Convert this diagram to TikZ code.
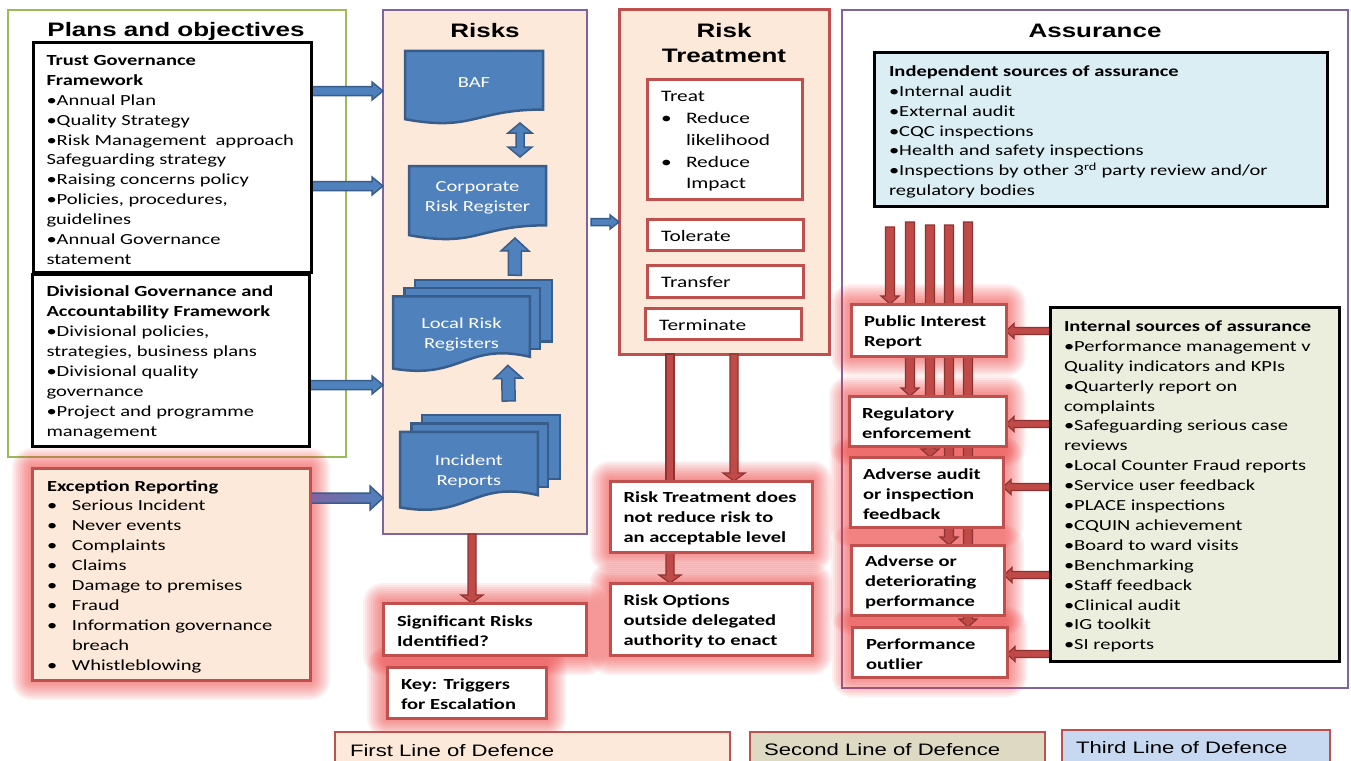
\documentclass[tikz,border=0pt]{standalone}
\usepackage{fontspec}
\setmainfont[FakeStretch=1.333]{Carlito}
\newfontfamily\headfont[FakeStretch=1.333]{Liberation Sans}
\usetikzlibrary{calc}

\definecolor{peach}{HTML}{FDE9D9}
\definecolor{brick}{HTML}{C0504D}
\definecolor{framepurple}{HTML}{8064A2}
\definecolor{leafgreen}{HTML}{9BBB59}
\definecolor{docblue}{HTML}{4F81BD}
\definecolor{docedge}{HTML}{385D8A}
\definecolor{arrowred}{HTML}{BF4A47}
\definecolor{arrowdark}{HTML}{8E3331}
\definecolor{glowred}{HTML}{F03030}
\definecolor{skyfill}{HTML}{DAEEF3}
\definecolor{olivefill}{HTML}{EBEEDD}
\definecolor{taupefill}{HTML}{DDD9C3}
\definecolor{paleblue}{HTML}{C6D9F1}

\newcommand\bodyfont{\fontsize{15.4pt}{19.9pt}\selectfont}
\newcommand\treatfont{\fontsize{16pt}{21.75pt}\selectfont}
\newcommand\paneltitlefont{\headfont\bfseries\fontsize{19.5pt}{25pt}\selectfont}
\newcommand\legendfont{\headfont\fontsize{16.6pt}{20pt}\selectfont}
\newcommand\bl{\makebox[25pt][l]{•}}

\pgfdeclarelayer{bg}
\pgfdeclarelayer{glow}
\pgfdeclarelayer{links}
\pgfsetlayers{bg,glow,links,main}

% soft red halo round an escalation trigger box
\newcommand\glowaround[1]{%
  \foreach \g in {2pt,4pt,6pt,8pt,10pt,12pt,14pt,16pt,18pt,20pt}{%
    \fill[glowred, opacity=0.07, rounded corners=\g]
      ($(#1.south west)+(-\g,-\g)$) rectangle ($(#1.north east)+(\g,\g)$);}}

% flowchart document: name, x, y, width, height, label
\newcommand\docshape[6]{%
  \filldraw[docfill] (#2,#3) -- ({#2+#4},#3) -- ({#2+#4},{#3+0.802*#5})
    .. controls ({#2+0.5*#4},{#3+0.802*#5}) and ({#2+0.5*#4},{#3+1.1075*#5}) ..
    (#2,{#3+0.934*#5}) -- cycle;
  \node[doclabel, minimum width=#4pt, minimum height=0.8*#5pt]
    (#1) at ({#2+0.5*#4},{#3+0.4*#5+2.5}) {#6};}

% stacked documents: name, x, y, width, height, label
\newcommand\multidoc[6]{%
  \filldraw[docfill] ({#2+0.1376*#4},#3) rectangle ({#2+#4},{#3+0.6667*#5});
  \filldraw[docfill] ({#2+0.0709*#4},{#3+0.0863*#5}) rectangle ({#2+0.9259*#4},{#3+0.7492*#5});
  \filldraw[docfill] (#2,{#3+0.1766*#5}) -- ({#2+0.8609*#4},{#3+0.1766*#5})
    -- ({#2+0.8609*#4},{#3+0.8344*#5})
    .. controls ({#2+0.4551*#4},{#3+0.6728*#5}) and ({#2+0.4305*#4},{#3+1.0899*#5}) ..
    (#2,{#3+0.9621*#5}) -- cycle;
  \node[doclabel, minimum width=0.8609*#4pt, minimum height=0.7734*#5pt]
    (#1) at ({#2+0.4305*#4},{#3+0.5633*#5+2.5}) {#6};}

\tikzset{
  every node/.style={inner sep=0pt, outer sep=0pt},
  wh/.style 2 args={minimum width=#1pt, minimum height=#2pt},
  panel/.style={rectangle, draw, line width=2.5pt, anchor=north west},
  box/.style={rectangle, draw=black, line width=3pt, fill=white, anchor=north west},
  flag/.style={box, draw=brick},
  txt/.style={anchor=west, align=left, font=\bodyfont, yshift=-2.5pt},
  boldtxt/.style={anchor=west, align=left, font=\bodyfont\bfseries, yshift=-2pt},
  paneltitle/.style={align=center, font=\paneltitlefont, yshift=-3pt},
  legendtxt/.style={anchor=west, font=\legendfont},
  docfill/.style={fill=docblue, draw=docedge, line width=2.5pt},
  doclabel/.style={text=white, align=center, font=\bodyfont},
  blk shaft/.store in=\blkS, blk head/.store in=\blkH, blk len/.store in=\blkL,
  blk shaft=4pt, blk head=9pt, blk len=10pt,
  block arrow/.style={to path={
    let \p1=(\tikztostart), \p2=(\tikztotarget),
        \n1={veclen(\x2-\x1,\y2-\y1)},
        \n2={(\x2-\x1)/\n1}, \n3={(\y2-\y1)/\n1}
    in ({\x1-\n3*\blkS},{\y1+\n2*\blkS})
    -- ({\x2-\n2*\blkL-\n3*\blkS},{\y2-\n3*\blkL+\n2*\blkS})
    -- ({\x2-\n2*\blkL-\n3*\blkH},{\y2-\n3*\blkL+\n2*\blkH})
    -- (\p2)
    -- ({\x2-\n2*\blkL+\n3*\blkH},{\y2-\n3*\blkL-\n2*\blkH})
    -- ({\x2-\n2*\blkL+\n3*\blkS},{\y2-\n3*\blkL-\n2*\blkS})
    -- ({\x1+\n3*\blkS},{\y1-\n2*\blkS})
    -- cycle}},
  double block arrow/.style={to path={
    let \p1=(\tikztostart), \p2=(\tikztotarget),
        \n1={veclen(\x2-\x1,\y2-\y1)},
        \n2={(\x2-\x1)/\n1}, \n3={(\y2-\y1)/\n1}
    in (\p1)
    -- ({\x1+\n2*\blkL-\n3*\blkH},{\y1+\n3*\blkL+\n2*\blkH})
    -- ({\x1+\n2*\blkL-\n3*\blkS},{\y1+\n3*\blkL+\n2*\blkS})
    -- ({\x2-\n2*\blkL-\n3*\blkS},{\y2-\n3*\blkL+\n2*\blkS})
    -- ({\x2-\n2*\blkL-\n3*\blkH},{\y2-\n3*\blkL+\n2*\blkH})
    -- (\p2)
    -- ({\x2-\n2*\blkL+\n3*\blkH},{\y2-\n3*\blkL-\n2*\blkH})
    -- ({\x2-\n2*\blkL+\n3*\blkS},{\y2-\n3*\blkL-\n2*\blkS})
    -- ({\x1+\n2*\blkL+\n3*\blkS},{\y1+\n3*\blkL-\n2*\blkS})
    -- ({\x1+\n2*\blkL+\n3*\blkH},{\y1+\n3*\blkL-\n2*\blkH})
    -- cycle}},
  bluearrow/.style={block arrow, fill=docblue, draw=docedge, line width=1.5pt,
    blk shaft=4.5pt, blk head=9pt, blk len=11pt},
  redarrow/.style={block arrow, fill=arrowred, draw=arrowdark, line width=1.2pt,
    blk shaft=4pt, blk head=11pt, blk len=8pt},
  redbar/.style={redarrow, blk head=4pt, blk len=0pt},
  sidearrow/.style={redarrow, blk shaft=3.5pt, blk head=7.5pt, blk len=8pt},
}

\begin{document}
\begin{tikzpicture}[x=1pt, y=-1pt]
\useasboundingbox (0,0) rectangle (1351,760);

\begin{pgfonlayer}{bg}
  \fill[white] (0,0) rectangle (1351,760);
  \node[panel, draw=leafgreen, fill=white, wh={338}{447}] (plans) at (8,10) {};
  \node[panel, draw=framepurple, fill=peach, wh={204}{524}] (risks) at (383,10) {};
  \node[panel, draw=brick, line width=3pt, fill=peach, wh={210}{344}] (treat) at (619,10) {};
  \node[panel, draw=framepurple, fill=white, wh={506}{678}] (assure) at (842,10) {};
\end{pgfonlayer}

% column titles
\node[paneltitle] (plans-title) at (176,28) {Plans and objectives};
\node[paneltitle] (risks-title) at (485,28) {Risks};
\node[paneltitle] (treat-title) at (724,40.5) {Risk\\Treatment};
\node[paneltitle] (assure-title) at (1095,28) {Assurance};

% plans and objectives
\node[box, wh={278}{229}] (tgf) at (33,43) {};
\node[txt] (tgf-text) at ([xshift=13.5pt]tgf.west)
  {\textbf{Trust Governance}\\\textbf{Framework}\\•Annual Plan\\•Quality Strategy\\
   •Risk Management~ approach\\Safeguarding strategy\\•Raising concerns policy\\
   •Policies, procedures,\\guidelines\\•Annual Governance\\statement};
\node[box, wh={277}{172}] (dgf) at (32,274) {};
\node[txt] (dgf-text) at ([xshift=14.5pt]dgf.west)
  {\textbf{Divisional Governance and}\\\textbf{Accountability Framework}\\
   •Divisional policies,\\strategies, business plans\\•Divisional quality\\
   governance\\•Project and programme\\management};
\node[flag, fill=peach, wh={278}{212}] (exc) at (32,468) {};
\node[txt] (exc-text) at ([xshift=15pt]exc.west)
  {\textbf{Exception Reporting}\\\bl Serious Incident\\\bl Never events\\\bl Complaints\\
   \bl Claims\\\bl Damage to premises\\\bl Fraud\\\bl Information governance\\
   \hspace*{25pt}breach\\\bl Whistleblowing};

% risk registers
\docshape{baf}{405}{51}{138}{73}{BAF}
\docshape{crr}{409}{166}{137}{74}{Corporate\\Risk Register}
\multidoc{lrr}{393}{280}{159}{92}{Local Risk\\Registers}
\multidoc{irp}{400}{415}{160}{96}{Incident\\Reports}

% risk treatment options
\node[flag, wh={155}{120}] (treatopt) at (647,79) {};
\node[txt, font=\treatfont] (treatopt-text) at ([xshift=14pt]treatopt.west)
  {Treat\\\bl Reduce\\\hspace*{25pt}likelihood\\\bl Reduce\\\hspace*{25pt}Impact};
\node[flag, wh={156}{31}] (tol) at (647,219) {};
\node[txt, font=\treatfont, yshift=1pt] (tol-text) at ([xshift=14pt]tol.west) {Tolerate};
\node[flag, wh={156}{32}] (trf) at (647,265) {};
\node[txt, font=\treatfont, yshift=1pt] (trf-text) at ([xshift=14pt]trf.west) {Transfer};
\node[flag, wh={156}{31}] (term) at (645,308) {};
\node[txt, font=\treatfont, yshift=1pt] (term-text) at ([xshift=14pt]term.west) {Terminate};

% escalation triggers below the columns
\node[flag, wh={202}{71}] (rtdoes) at (610,481) {};
\node[boldtxt] (rtdoes-text) at ([xshift=13.5pt]rtdoes.west)
  {Risk Treatment does\\not reduce risk to\\an acceptable level};
\node[flag, wh={202}{72}] (ropt) at (610,583) {};
\node[boldtxt] (ropt-text) at ([xshift=13.5pt]ropt.west)
  {Risk Options\\outside delegated\\authority to enact};
\node[flag, wh={203}{52}] (sig) at (383,603) {};
\node[boldtxt] (sig-text) at ([xshift=14pt]sig.west) {Significant Risks\\Identified?};
\node[flag, wh={159}{51}] (key) at (387,667) {};
\node[boldtxt] (key-text) at ([xshift=14pt]key.west) {Key: Triggers\\for Escalation};

% assurance
\node[box, fill=skyfill, wh={453}{153}] (indep) at (874,53) {};
\node[txt] (indep-text) at ([xshift=15pt]indep.west)
  {\textbf{Independent sources of assurance}\\•Internal audit\\•External audit\\
   •CQC inspections\\•Health and safety inspections\\
   •Inspections by other 3\textsuperscript{rd} party review and/or\\regulatory bodies};
\node[flag, wh={155}{52}] (pir) at (851,304) {};
\node[boldtxt] (pir-text) at ([xshift=13pt]pir.west) {Public Interest\\Report};
\node[flag, wh={157}{50}] (reg) at (849,396) {};
\node[boldtxt] (reg-text) at ([xshift=13pt]reg.west) {Regulatory\\enforcement};
\node[flag, wh={153}{70}] (aud) at (850,457) {};
\node[boldtxt] (aud-text) at ([xshift=13pt]aud.west) {Adverse audit\\or inspection\\feedback};
\node[flag, wh={153}{70}] (advp) at (851,545) {};
\node[boldtxt] (advp-text) at ([xshift=14pt]advp.west) {Adverse or\\deteriorating\\performance};
\node[flag, wh={155}{50}] (outl) at (852,627) {};
\node[boldtxt] (outl-text) at ([xshift=14pt]outl.west) {Performance\\outlier};
\node[box, fill=olivefill, wh={289}{354}] (intl) at (1050,307) {};
\node[txt] (intl-text) at ([xshift=14pt]intl.west)
  {\textbf{Internal sources of assurance}\\•Performance management v\\
   Quality indicators and KPIs\\•Quarterly report on\\complaints\\
   •Safeguarding serious case\\reviews\\•Local Counter Fraud reports\\
   •Service user feedback\\•PLACE inspections\\•CQUIN achievement\\
   •Board to ward visits\\•Benchmarking\\•Staff feedback\\•Clinical audit\\
   •IG toolkit\\•SI reports};

% lines of defence legend
\node[panel, draw=brick, fill=peach, wh={395}{45}] (first) at (335,732) {};
\node[legendtxt] (first-text) at ($(first.north west)+(15pt,-18.5pt)$) {First Line of Defence};
\node[panel, draw=brick, fill=taupefill, wh={295}{45}] (second) at (750,732) {};
\node[legendtxt] (second-text) at ($(second.north west)+(14pt,-17.5pt)$) {Second Line of Defence};
\node[panel, draw=brick, fill=paleblue, wh={268}{47}] (third) at (1062,730) {};
\node[legendtxt] (third-text) at ($(third.north west)+(14pt,-17.5pt)$) {Third Line of Defence};

% red halos round the escalation triggers
\begin{pgfonlayer}{glow}
  \glowaround{exc}
  \glowaround{sig}
  \glowaround{key}
  \glowaround{rtdoes}
  \glowaround{ropt}
  \glowaround{pir}
  \glowaround{reg}
  \glowaround{aud}
  \glowaround{advp}
  \glowaround{outl}
\end{pgfonlayer}

\begin{pgfonlayer}{links}
  % inputs into the risk column
  \draw[bluearrow] (tgf.east |- 0,91) to (risks.west |- 0,91);
  \draw[bluearrow] (tgf.east |- 0,186) to (risks.west |- 0,186);
  \draw[bluearrow] (dgf.east |- 0,385) to (risks.west |- 0,385);
  \draw[bluearrow, blk shaft=5pt, blk head=12pt, blk len=13pt,
        left color=framepurple, right color=docblue]
    (exc.east |- 0,498) to (risks.west |- 0,498);
  \draw[bluearrow, blk shaft=3.5pt, blk head=7pt, blk len=9pt]
    ($(risks.east |- 0,222)+(4pt,0)$) to (treat.west |- 0,222);
  % escalation within the risk column
  \draw[bluearrow, double block arrow, blk shaft=4pt, blk head=12pt, blk len=10pt]
    ($(baf.south east)+(-23pt,-11.1pt)$) to ($(crr.north east)+(-26pt,11.5pt)$);
  \draw[bluearrow, blk shaft=6.5pt, blk head=14pt, blk len=13pt]
    ($(lrr.north east)+(-15pt,23.5pt)$) to ($(crr.south east)+(-31pt,-10.3pt)$);
  \draw[bluearrow, blk shaft=6.5pt, blk head=14pt, blk len=13pt]
    ($(irp.north east)+(-29pt,33.5pt)$) to ($(lrr.south east)+(-22pt,4.5pt)$);
  % escalation triggers
  \draw[redarrow] (treat.south -| 734,0) to (rtdoes.north -| 734,0);
  \draw[redbar] (treat.south -| 670,0) to (rtdoes.north -| 670,0);
  \draw[redarrow] (rtdoes.south -| 670,0) to (ropt.north -| 670,0);
  \draw[redarrow] (risks.south -| 472,0) to (sig.north -| 472,0);
  % independent assurance feeding the triggers
  \coordinate (bar1) at ($(indep.south west)+(16pt,-21pt)$);
  \coordinate (bar2) at ($(indep.south west)+(36pt,-16pt)$);
  \coordinate (bar3) at ($(indep.south west)+(56pt,-19pt)$);
  \coordinate (bar4) at ($(indep.south west)+(75pt,-19pt)$);
  \coordinate (bar5) at ($(indep.south west)+(94pt,-16pt)$);
  \draw[redarrow, blk shaft=4.5pt, blk head=9pt] (bar1) to (pir.north -| bar1);
  \draw[redarrow, blk shaft=4.5pt, blk head=9pt] (bar2) to (reg.north -| bar2);
  \draw[redarrow, blk shaft=4.5pt, blk head=9pt] (bar3) to (aud.north -| bar3);
  \draw[redarrow, blk shaft=4.5pt, blk head=9pt] (bar4) to (advp.north -| bar4);
  \draw[redarrow, blk shaft=4.5pt, blk head=9pt] (bar5) to (outl.north -| bar5);
  % internal assurance feeding the triggers
  \draw[sidearrow] (intl.west |- 0,331) to (pir.east |- 0,331);
  \draw[sidearrow] (intl.west |- 0,424) to (reg.east |- 0,424);
  \draw[sidearrow] (intl.west |- 0,487) to (aud.east |- 0,487);
  \draw[sidearrow] (intl.west |- 0,575) to (advp.east |- 0,575);
  \draw[sidearrow] (intl.west |- 0,654) to (outl.east |- 0,654);
\end{pgfonlayer}
\end{tikzpicture}
\end{document}
